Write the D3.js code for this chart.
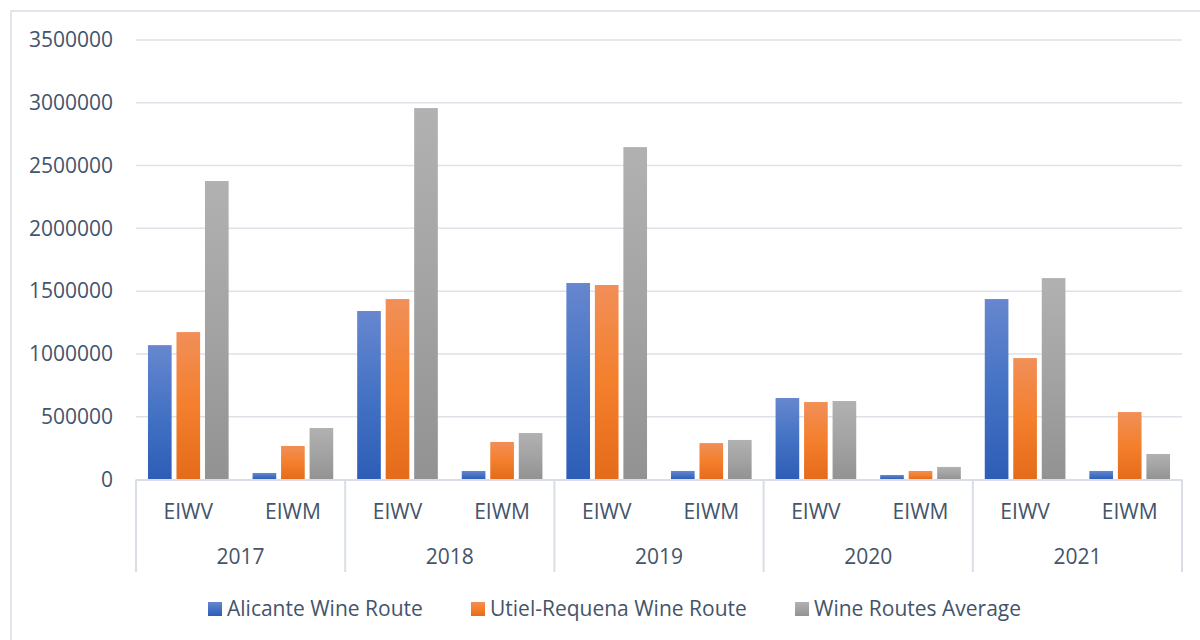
<!DOCTYPE html>
<html>
<head>
<meta charset="utf-8">
<script src="https://cdn.jsdelivr.net/npm/d3@7/dist/d3.min.js"></script>
<style>
  body { margin: 0; background: #fff; }
  svg { display: block; }
  text { font-family: "Open Sans", "Liberation Sans", sans-serif; fill: #44546A; }
</style>
</head>
<body>
<svg id="chart" width="1200" height="640"></svg>
<script>
const years = ["2017", "2018", "2019", "2020", "2021"];
const subCategories = ["EIWV", "EIWM"];
const seriesNames = ["Alicante Wine Route", "Utiel-Requena Wine Route", "Wine Routes Average"];
// values per year, ordered [EIWV, EIWM]
const alicante = [[1070000, 52000], [1342000, 68000], [1565000, 68000], [649000, 36000], [1437000, 68000]];
const utielRequena = [[1174000, 267000], [1437000, 299000], [1549000, 290000], [617000, 68000], [967000, 537000]];
const average = [[2377000, 410000], [2958000, 370000], [2647000, 315000], [625000, 100000], [1604000, 203000]];
const yTicks = [0, 500000, 1000000, 1500000, 2000000, 2500000, 3000000, 3500000];

const seriesData = [alicante, utielRequena, average];
const gradients = [
  ["#6787cf", "#4472c4", "#2d5db6"],
  ["#f18f58", "#f47f2c", "#e46b19"],
  ["#b1b1b1", "#a3a3a3", "#929292"]
];

const svg = d3.select("#chart");
const W = 1200, H = 640;
const margin = { left: 136, right: 18, top: 40, bottom: 160 };
const plotL = 136, plotR = 1182, plotT = 40, plotB = 479.5;

// outer frame
svg.append("rect").attr("x", 11).attr("y", 11).attr("width", 1200).attr("height", 700)
  .attr("fill", "#fff").attr("stroke", "#d9dee6").attr("stroke-width", 1.5);

const defs = svg.append("defs");
gradients.forEach((g, i) => {
  const lg = defs.append("linearGradient").attr("id", "grad" + i)
    .attr("x1", 0).attr("y1", 0).attr("x2", 0).attr("y2", 1);
  lg.append("stop").attr("offset", "0%").attr("stop-color", g[0]);
  lg.append("stop").attr("offset", "50%").attr("stop-color", g[1]);
  lg.append("stop").attr("offset", "100%").attr("stop-color", g[2]);
});

const y = d3.scaleLinear().domain([0, 3500000]).range([plotB, plotT]);
const xYear = d3.scaleBand().domain(years).range([plotL, plotR]).padding(0);
const xSub = d3.scaleBand().domain(subCategories).range([0, xYear.bandwidth()]).padding(0);
const xSeries = d3.scaleBand().domain(seriesNames).range([0, xSub.bandwidth()])
  .paddingInner(0.17).paddingOuter(0.42);

// gridlines
svg.append("g").selectAll("line").data(yTicks.filter(d => d > 0)).join("line")
  .attr("x1", plotL).attr("x2", plotR)
  .attr("y1", d => y(d)).attr("y2", d => y(d))
  .attr("stroke", "#dde2e9").attr("stroke-width", 1.5);

// y axis labels
const yAxis = d3.axisLeft(y).tickValues(yTicks).tickFormat(d3.format("d")).tickSize(0).tickPadding(23);
const yg = svg.append("g").attr("transform", `translate(${plotL},0)`).call(yAxis);
yg.select(".domain").remove();
yg.selectAll("text").style("font-size", "21px").attr("fill", "#44546A")
  .style("font-family", '"Open Sans", sans-serif');

// bars
const barsData = [];
years.forEach((yr, yi) => {
  subCategories.forEach((sc, si) => {
    seriesNames.forEach((sn, k) => {
      barsData.push({ yr, sc, sn, k, v: seriesData[k][yi][si] });
    });
  });
});
svg.append("g").selectAll("rect").data(barsData).join("rect")
  .attr("x", d => xYear(d.yr) + xSub(d.sc) + xSeries(d.sn))
  .attr("width", xSeries.bandwidth())
  .attr("y", d => y(d.v))
  .attr("height", d => y(0) - y(d.v))
  .attr("fill", d => `url(#grad${d.k})`);

// category axis
const axisG = svg.append("g");
const boxBottom = 572;
axisG.append("line").attr("x1", plotL).attr("x2", plotR).attr("y1", plotB + 0.5).attr("y2", plotB + 0.5)
  .attr("stroke", "#d9dee6").attr("stroke-width", 2);
const seps = years.map(yr => xYear(yr)).concat([plotR]);
axisG.selectAll("line.sep").data(seps).join("line").attr("class", "sep")
  .attr("x1", d => d).attr("x2", d => d).attr("y1", plotB).attr("y2", boxBottom)
  .attr("stroke", "#d9dee6").attr("stroke-width", 2);

years.forEach(yr => {
  subCategories.forEach(sc => {
    axisG.append("text")
      .attr("x", xYear(yr) + xSub(sc) + xSub.bandwidth() / 2)
      .attr("y", 512).attr("dy", "0.35em").attr("text-anchor", "middle")
      .style("font-size", "21px").text(sc);
  });
  axisG.append("text")
    .attr("x", xYear(yr) + xYear.bandwidth() / 2)
    .attr("y", 557).attr("dy", "0.35em").attr("text-anchor", "middle")
    .style("font-size", "21px").text(yr);
});

// legend
const legendX = [208, 471, 795];
const lg = svg.append("g");
seriesNames.forEach((sn, i) => {
  lg.append("rect").attr("x", legendX[i]).attr("y", 602).attr("width", 14).attr("height", 14)
    .attr("fill", `url(#grad${i})`);
  lg.append("text").attr("x", legendX[i] + 19).attr("y", 609).attr("dy", "0.35em")
    .style("font-size", "21px").text(sn);
});
</script>
</body>
</html>
